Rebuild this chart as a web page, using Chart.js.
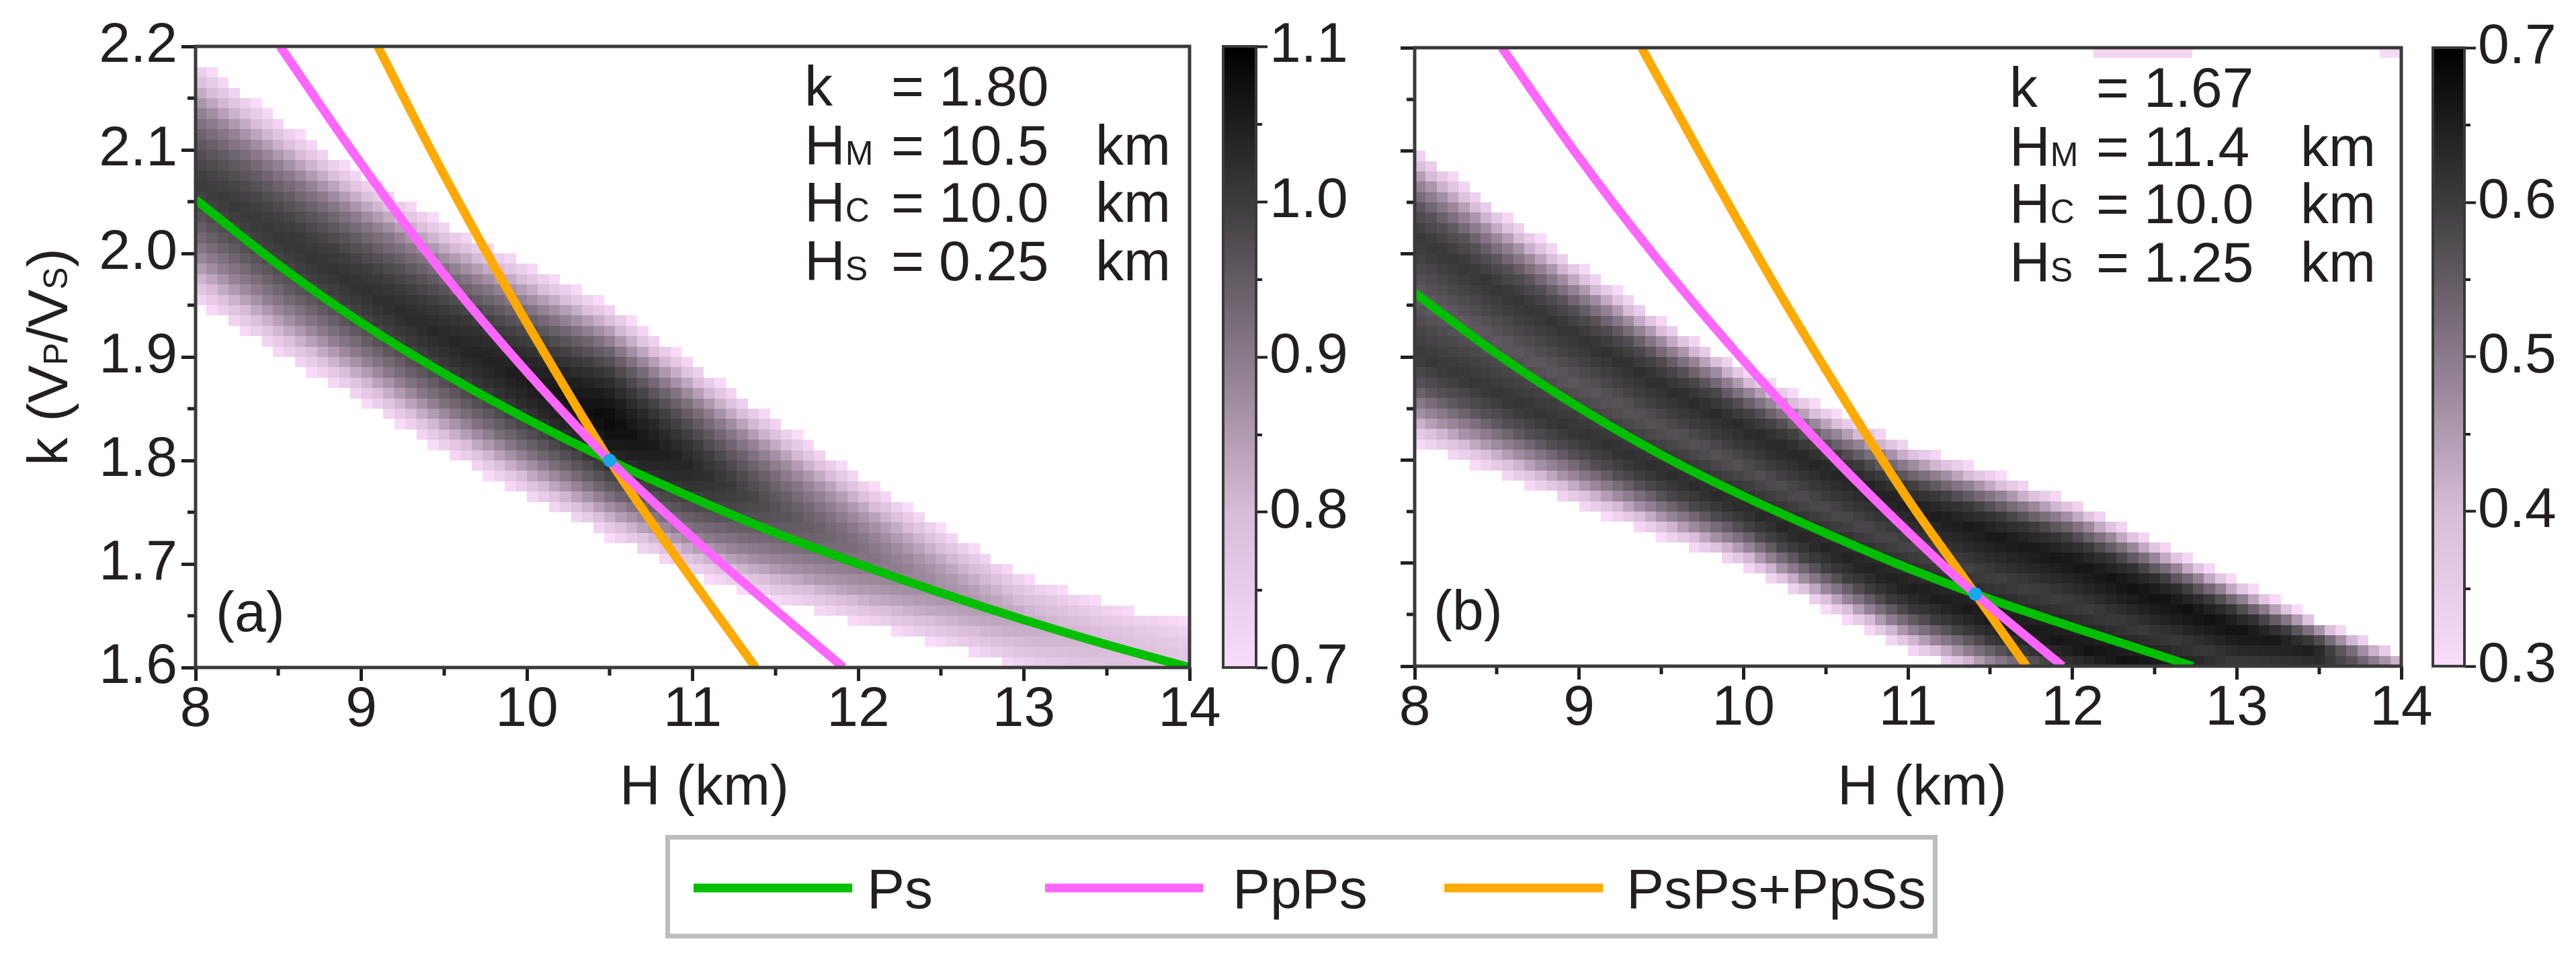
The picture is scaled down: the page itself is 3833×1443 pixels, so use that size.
<!DOCTYPE html>
<html><head><meta charset="utf-8">
<script src="https://cdn.jsdelivr.net/npm/chart.js@4.4.1/dist/chart.umd.min.js"></script>
<style>
html,body{margin:0;padding:0;background:#fff;overflow:hidden;}
#wrap{position:relative;width:3833px;height:1443px;background:#fff;}
#wrap canvas{position:absolute;left:0;top:0;}
</style></head><body>
<div id="wrap">
<canvas id="cA" width="3833" height="1443"></canvas>
<canvas id="cB" width="3833" height="1443"></canvas>
<canvas id="cbA" width="3833" height="1443"></canvas>
<canvas id="cbB" width="3833" height="1443"></canvas>
</div>
<script>
// ---------------- DATA ----------------
const X_TICKS = [8, 9, 10, 11, 12, 13, 14];
const X_MINOR = [8.5, 9.5, 10.5, 11.5, 12.5, 13.5];
const Y_TICKS = [1.6, 1.7, 1.8, 1.9, 2.0, 2.1, 2.2];
const Y_MINOR = [1.65, 1.75, 1.85, 1.95, 2.05, 2.15];
const CB_A_TICKS = [0.7, 0.8, 0.9, 1.0, 1.1];
const CB_A_MINOR = [0.75, 0.85, 0.95, 1.05];
const CB_B_TICKS = [0.3, 0.4, 0.5, 0.6, 0.7];
const CB_B_MINOR = [0.35, 0.45, 0.55, 0.65];

// heat-map band (edges of the coloured band, peak value per H)
const H_NODES     = [8, 8.5, 9, 9.5, 10, 10.5, 11, 11.5, 12, 12.5, 13, 13.5, 14];
const A_BAND_TOP  = [2.188, 2.130, 2.075, 2.030, 1.990, 1.950, 1.895, 1.840, 1.785, 1.735, 1.688, 1.662, 1.644];
const A_BAND_BOT  = [1.953, 1.903, 1.857, 1.808, 1.764, 1.725, 1.690, 1.664, 1.643, 1.622, 1.598, 1.580, 1.565];
const A_BAND_PEAK = [1.00, 1.01, 1.02, 1.035, 1.055, 1.085, 1.035, 0.97, 0.92, 0.87, 0.83, 0.80, 0.77];
const B_BAND_TOP  = [2.105, 2.045, 1.990, 1.937, 1.889, 1.850, 1.816, 1.789, 1.761, 1.722, 1.683, 1.645, 1.612];
const B_BAND_BOT  = [1.816, 1.786, 1.755, 1.725, 1.696, 1.655, 1.615, 1.585, 1.560, 1.540, 1.525, 1.535, 1.560];
const B_BAND_PEAK = [0.62, 0.625, 0.63, 0.64, 0.645, 0.655, 0.665, 0.675, 0.68, 0.69, 0.69, 0.66, 0.45];
// relative intensity across the band, bottom edge (-1) to top edge (+1)
const U_NODES   = [-1, -0.8, -0.6, -0.4, -0.2, 0, 0.2, 0.4, 0.6, 0.8, 1];
const PROFILE_A = [0, 0.35, 0.62, 0.80, 0.93, 1.0, 0.93, 0.80, 0.62, 0.35, 0];
const PROFILE_B = [0, 0.50, 0.82, 0.96, 0.88, 0.78, 0.88, 0.96, 0.82, 0.50, 0];
const B_EXTRA_H0 = [12.13, 13.87];
const B_EXTRA_H1 = [12.73, 14.0];
const B_EXTRA_K0 = [2.19, 2.19];
const B_EXTRA_V  = [0.32, 0.31];
const CELL_DH = 1 / 15;
const CELL_DK = 0.01;

// colour map (fraction of colour-bar range -> colour)
const CMAP_STOPS  = [0, 0.25, 0.5, 0.75, 1];
const CMAP_COLORS = [[250, 220, 250], [216, 188, 216], [138, 122, 138], [60, 60, 60], [0, 0, 0]];

// curves (a)
const A_PS_H   = [8, 8.5, 9, 9.5, 10, 10.5, 11, 11.5, 12, 12.5, 13, 13.5, 14];
const A_PS_K   = [2.052, 1.989, 1.933, 1.884, 1.840, 1.80, 1.764, 1.730, 1.70, 1.672, 1.646, 1.622, 1.60];
const A_PPPS_H = [8.51, 8.94, 9.40, 9.92, 10.5, 11.18, 11.91];
const A_PPPS_K = [2.2, 2.1, 2.0, 1.9, 1.8, 1.7, 1.6];
const A_PSPS_H = [9.10, 9.42, 9.76, 10.12, 10.5, 10.93, 11.38];
const A_PSPS_K = [2.2, 2.1, 2.0, 1.9, 1.8, 1.7, 1.6];
const A_BEST   = [10.5, 1.80];
// curves (b)
const B_PS_H   = [8, 8.5, 9, 9.5, 10, 10.5, 11, 11.41, 12, 12.5, 12.73];
const B_PS_K   = [1.962, 1.903, 1.851, 1.805, 1.765, 1.729, 1.695, 1.67, 1.638, 1.612, 1.60];
const B_PPPS_H = [8.53, 8.97, 9.45, 9.98, 10.56, 11.20, 11.41, 11.94];
const B_PPPS_K = [2.2, 2.1, 2.0, 1.9, 1.8, 1.7, 1.67, 1.6];
const B_PSPS_H = [9.38, 9.8, 10.2, 10.6, 11.0, 11.41, 11.72];
const B_PSPS_K = [2.2, 2.079, 1.967, 1.862, 1.762, 1.67, 1.60];
const B_BEST   = [11.41, 1.67];

const SERIES_LABELS = ['Ps', 'PpPs', 'PsPs+PpSs'];
const PANEL_LABELS = ['(a)', '(b)'];
const PARAM_SYMBOLS = [['k', ''], ['H', 'M'], ['H', 'C'], ['H', 'S']];
const PARAM_UNITS = ['', 'km', 'km', 'km'];
const A_PARAM_VALUES = ['1.80', '10.5', '10.0', '0.25'];
const B_PARAM_VALUES = ['1.67', '11.4', '10.0', '1.25'];
const X_TITLE = 'H (km)';

// ---------------- STYLE / LAYOUT ----------------
const W = 3833, HGT = 1443;
const FAM = '"Liberation Sans", Arial, Helvetica, sans-serif';
const TXT = '#231f20';
const FS = 84, FSUB = 50;
const GREEN = '#00be00', PINK = '#ff66ff', ORANGE = '#ffaa00', CYAN = '#1aa6ea';
const AREA_A = {l: 291, r: 1770, t: 69, b: 993};
const AREA_B = {l: 2105, r: 3573, t: 71, b: 991};
const AREA_CA = {l: 1820, r: 1869, t: 69, b: 993};
const AREA_CB = {l: 3620, r: 3667, t: 71, b: 991};
const YW = 250, XH = 150, CBW = 220;

Chart.defaults.font.family = FAM;
Chart.defaults.color = TXT;

function f(sz) { return sz + 'px ' + FAM; }
function interp(xs, ys, x) {
  if (x <= xs[0]) return ys[0];
  for (let i = 1; i < xs.length; i++) {
    if (x <= xs[i]) { const t = (x - xs[i - 1]) / (xs[i] - xs[i - 1]); return ys[i - 1] + t * (ys[i] - ys[i - 1]); }
  }
  return ys[ys.length - 1];
}
function cmapRGB(t) {
  t = Math.max(0, Math.min(1, t));
  for (let i = 1; i < CMAP_STOPS.length; i++) {
    if (t <= CMAP_STOPS[i]) {
      const s = (t - CMAP_STOPS[i - 1]) / (CMAP_STOPS[i] - CMAP_STOPS[i - 1]);
      const a = CMAP_COLORS[i - 1], b = CMAP_COLORS[i];
      return 'rgb(' + [0, 1, 2].map(j => Math.round(a[j] + s * (b[j] - a[j]))).join(',') + ')';
    }
  }
  const c = CMAP_COLORS[CMAP_COLORS.length - 1];
  return 'rgb(' + c.join(',') + ')';
}
function zip(xs, ys) { return xs.map((x, i) => ({x: x, y: ys[i]})); }

function heatPlugin(band) {
  return {
    id: 'heat',
    beforeDatasetsDraw(chart) {
      const ctx = chart.ctx, a = chart.chartArea, xs = chart.scales.x, ys = chart.scales.y;
      ctx.save();
      ctx.beginPath(); ctx.rect(a.left, a.top, a.right - a.left, a.bottom - a.top); ctx.clip();
      const nC = Math.round((xs.max - xs.min) / CELL_DH), nR = Math.round((ys.max - ys.min) / CELL_DK);
      for (let i = 0; i < nC; i++) {
        const h0 = xs.min + i * CELL_DH, h1 = h0 + CELL_DH, hc = (h0 + h1) / 2;
        const top = interp(H_NODES, band.top, hc), bot = interp(H_NODES, band.bot, hc), pk = interp(H_NODES, band.peak, hc);
        const cen = (top + bot) / 2, half = (top - bot) / 2;
        const x0 = Math.round(xs.getPixelForValue(h0)), x1 = Math.round(xs.getPixelForValue(h1));
        for (let j = 0; j < nR; j++) {
          const k0 = ys.min + j * CELL_DK, k1 = k0 + CELL_DK, kc = (k0 + k1) / 2;
          const u = (kc - cen) / half;
          if (Math.abs(u) >= 1) continue;
          const p = interp(U_NODES, band.profile, u);
          if (p <= 0) continue;
          const v = band.cmin + (pk - band.cmin) * p;
          ctx.fillStyle = cmapRGB((v - band.cmin) / (band.cmax - band.cmin));
          const y0 = Math.round(ys.getPixelForValue(k0)), y1 = Math.round(ys.getPixelForValue(k1));
          ctx.fillRect(x0, y1, x1 - x0, y0 - y1);
        }
      }
      if (band.extraH0) {
        band.extraH0.forEach((h0, i) => {
          const x0 = Math.round(xs.getPixelForValue(h0)), x1 = Math.round(xs.getPixelForValue(band.extraH1[i]));
          const y0 = Math.round(ys.getPixelForValue(band.extraK0[i])), y1 = Math.round(ys.getPixelForValue(band.extraK0[i] + CELL_DK));
          ctx.fillStyle = cmapRGB((band.extraV[i] - band.cmin) / (band.cmax - band.cmin));
          ctx.fillRect(x0, y1, x1 - x0, y0 - y1);
        });
      }
      ctx.restore();
    }
  };
}

const frameMinorPlugin = {
  id: 'frameMinor',
  afterDatasetsDraw(chart) {
    const ctx = chart.ctx, a = chart.chartArea, xs = chart.scales.x, ys = chart.scales.y;
    ctx.save();
    ctx.strokeStyle = TXT; ctx.lineWidth = 5;
    ctx.beginPath();
    X_MINOR.forEach(v => { const px = Math.round(xs.getPixelForValue(v)); ctx.moveTo(px, a.bottom); ctx.lineTo(px, a.bottom + 12); });
    Y_MINOR.forEach(v => { const py = Math.round(ys.getPixelForValue(v)); ctx.moveTo(a.left - 12, py); ctx.lineTo(a.left, py); });
    ctx.stroke();
    ctx.strokeStyle = '#3a3a3a'; ctx.lineWidth = 5;
    ctx.strokeRect(a.left, a.top, a.right - a.left, a.bottom - a.top);
    ctx.restore();
  }
};

function drawRuns(ctx, x, y, parts) {
  let cx = x;
  parts.forEach(p => { if (!p[0]) return; ctx.font = f(p[1]); ctx.fillText(p[0], cx, y); cx += ctx.measureText(p[0]).width; });
  return cx;
}
function runsWidth(ctx, parts) {
  let w = 0;
  parts.forEach(p => { if (!p[0]) return; ctx.font = f(p[1]); w += ctx.measureText(p[0]).width; });
  return w;
}
function drawParams(ctx, values, cols, base) {
  PARAM_SYMBOLS.forEach((s, i) => {
    const y = base[i];
    drawRuns(ctx, cols[0], y, [[s[0], FS], [s[1], FSUB]]);
    ctx.font = f(FS);
    ctx.fillText('=', cols[1], y);
    ctx.fillText(values[i], cols[2], y);
    if (PARAM_UNITS[i]) ctx.fillText(PARAM_UNITS[i], cols[3], y);
  });
}

function textPlugin(which) {
  return {
    id: 'text' + which,
    afterDraw(chart) {
      const ctx = chart.ctx;
      ctx.save();
      ctx.fillStyle = TXT; ctx.textAlign = 'left'; ctx.textBaseline = 'alphabetic';
      if (which === 'A') {
        drawParams(ctx, A_PARAM_VALUES, [1197, 1326, 1397, 1630], [157, 245, 330, 417]);
        ctx.font = f(FS); ctx.fillText(PANEL_LABELS[0], 321, 939);
        ctx.textAlign = 'center'; ctx.fillText(X_TITLE, 1048, 1197);
        // y title
        ctx.textAlign = 'left';
        const parts = [['k (V', FS], ['P', FSUB], ['/V', FS], ['S', FSUB], [')', FS]];
        const w = runsWidth(ctx, parts);
        ctx.save(); ctx.translate(100, 531); ctx.rotate(-Math.PI / 2);
        drawRuns(ctx, -w / 2, 0, parts);
        ctx.restore();
        // legend
        const L = {l: 990, r: 2883, t: 1242, b: 1396};
        ctx.strokeStyle = '#bdbdbd'; ctx.lineWidth = 7;
        ctx.strokeRect(L.l + 3.5, L.t + 3.5, L.r - L.l - 7, L.b - L.t - 7);
        const ds = chart.data.datasets;
        const items = [[1032, 1268, 1290], [1555, 1790, 1834], [2149, 2385, 2420]];
        SERIES_LABELS.forEach((lab, i) => {
          const d = ds.find(q => q.label === lab);
          ctx.strokeStyle = d.borderColor; ctx.lineWidth = 13; ctx.lineCap = 'butt';
          ctx.beginPath(); ctx.moveTo(items[i][0], 1321); ctx.lineTo(items[i][1], 1321); ctx.stroke();
          ctx.fillStyle = TXT; ctx.font = f(FS); ctx.fillText(lab, items[i][2], 1351);
        });
      } else {
        drawParams(ctx, B_PARAM_VALUES, [2990, 3119, 3190, 3423], [159, 247, 332, 419]);
        ctx.font = f(FS); ctx.fillText(PANEL_LABELS[1], 2133, 937);
        ctx.textAlign = 'center'; ctx.fillText(X_TITLE, 2860, 1197);
      }
      ctx.restore();
    }
  };
}

function panelConfig(area, curves, band, showY, which) {
  return {
    type: 'scatter',
    data: {
      datasets: [
        {label: 'best', data: [{x: curves.best[0], y: curves.best[1]}], pointRadius: 10, pointHoverRadius: 10,
         backgroundColor: CYAN, borderWidth: 0, showLine: false, order: 0},
        {label: SERIES_LABELS[1], data: zip(curves.ppH, curves.ppK), showLine: true, borderColor: PINK, borderWidth: 13,
         pointRadius: 0, cubicInterpolationMode: 'monotone', borderCapStyle: 'butt', order: 1},
        {label: SERIES_LABELS[2], data: zip(curves.psH2, curves.psK2), showLine: true, borderColor: ORANGE, borderWidth: 13,
         pointRadius: 0, cubicInterpolationMode: 'monotone', borderCapStyle: 'butt', order: 2},
        {label: SERIES_LABELS[0], data: zip(curves.psH, curves.psK), showLine: true, borderColor: GREEN, borderWidth: 13,
         pointRadius: 0, cubicInterpolationMode: 'monotone', borderCapStyle: 'butt', order: 3}
      ]
    },
    options: {
      responsive: false, animation: false, devicePixelRatio: 1, events: [],
      layout: {padding: {left: area.l - YW, right: W - area.r, top: area.t, bottom: HGT - area.b - XH}},
      plugins: {legend: {display: false}, tooltip: {enabled: false}},
      scales: {
        x: {type: 'linear', min: 8, max: 14,
            afterBuildTicks: s => { s.ticks = X_TICKS.map(v => ({value: v})); },
            afterFit: s => { s.height = XH; },
            ticks: {font: {size: FS, family: FAM, lineHeight: 1}, color: TXT, padding: 2, maxRotation: 0, autoSkip: false,
                    callback: v => String(v)},
            grid: {drawOnChartArea: false, drawTicks: true, tickLength: 20, tickWidth: 5, tickColor: TXT},
            border: {display: false}},
        y: {type: 'linear', min: 1.6, max: 2.2,
            afterBuildTicks: s => { s.ticks = Y_TICKS.map(v => ({value: v})); },
            afterFit: s => { s.width = YW; },
            ticks: {display: showY, font: {size: FS, family: FAM, lineHeight: 1}, color: TXT, padding: 6, autoSkip: false,
                    callback: v => v.toFixed(1)},
            grid: {drawOnChartArea: false, drawTicks: true, tickLength: 21, tickWidth: 5, tickColor: TXT},
            border: {display: false}}
      }
    },
    plugins: [heatPlugin(band), frameMinorPlugin, textPlugin(which)]
  };
}

function colorbarConfig(area, cmin, cmax, ticks, minor) {
  return {
    type: 'bar',
    data: {labels: [''], datasets: [{data: [[cmin, cmax]], barPercentage: 1, categoryPercentage: 1, borderWidth: 0,
      backgroundColor: (c) => {
        const ch = c.chart, a = ch.chartArea;
        if (!a) return '#888';
        const g = ch.ctx.createLinearGradient(0, a.bottom, 0, a.top);
        CMAP_STOPS.forEach((s, i) => g.addColorStop(s, 'rgb(' + CMAP_COLORS[i].join(',') + ')'));
        return g;
      }}]},
    options: {
      responsive: false, animation: false, devicePixelRatio: 1, events: [],
      layout: {padding: {left: area.l, right: W - area.r - CBW, top: area.t, bottom: HGT - area.b}},
      plugins: {legend: {display: false}, tooltip: {enabled: false}},
      scales: {
        x: {display: false, offset: true},
        y: {type: 'linear', position: 'right', min: cmin, max: cmax,
            afterBuildTicks: s => { s.ticks = ticks.map(v => ({value: v})); },
            afterFit: s => { s.width = CBW; },
            ticks: {font: {size: FS, family: FAM, lineHeight: 1}, color: TXT, padding: 3, autoSkip: false,
                    callback: v => v.toFixed(1)},
            grid: {drawOnChartArea: false, drawTicks: true, tickLength: 17, tickWidth: 4, tickColor: TXT},
            border: {display: false}}
      }
    },
    plugins: [{
      id: 'cbFrame',
      afterDatasetsDraw(chart) {
        const ctx = chart.ctx, a = chart.chartArea, ys = chart.scales.y;
        ctx.save();
        ctx.strokeStyle = TXT; ctx.lineWidth = 4;
        ctx.beginPath();
        minor.forEach(v => { const py = Math.round(ys.getPixelForValue(v)); ctx.moveTo(a.right, py); ctx.lineTo(a.right + 9, py); });
        ctx.stroke();
        ctx.strokeStyle = '#3a3a3a'; ctx.lineWidth = 4;
        ctx.strokeRect(a.left, a.top, a.right - a.left, a.bottom - a.top);
        ctx.restore();
      }
    }]
  };
}

const bandA = {top: A_BAND_TOP, bot: A_BAND_BOT, peak: A_BAND_PEAK, profile: PROFILE_A, cmin: 0.7, cmax: 1.1};
const bandB = {top: B_BAND_TOP, bot: B_BAND_BOT, peak: B_BAND_PEAK, profile: PROFILE_B, cmin: 0.3, cmax: 0.7,
               extraH0: B_EXTRA_H0, extraH1: B_EXTRA_H1, extraK0: B_EXTRA_K0, extraV: B_EXTRA_V};
const curvesA = {psH: A_PS_H, psK: A_PS_K, ppH: A_PPPS_H, ppK: A_PPPS_K, psH2: A_PSPS_H, psK2: A_PSPS_K, best: A_BEST};
const curvesB = {psH: B_PS_H, psK: B_PS_K, ppH: B_PPPS_H, ppK: B_PPPS_K, psH2: B_PSPS_H, psK2: B_PSPS_K, best: B_BEST};

new Chart(document.getElementById('cA'), panelConfig(AREA_A, curvesA, bandA, true, 'A'));
new Chart(document.getElementById('cB'), panelConfig(AREA_B, curvesB, bandB, false, 'B'));
new Chart(document.getElementById('cbA'), colorbarConfig(AREA_CA, 0.7, 1.1, CB_A_TICKS, CB_A_MINOR));
new Chart(document.getElementById('cbB'), colorbarConfig(AREA_CB, 0.3, 0.7, CB_B_TICKS, CB_B_MINOR));
</script>
</body></html>
